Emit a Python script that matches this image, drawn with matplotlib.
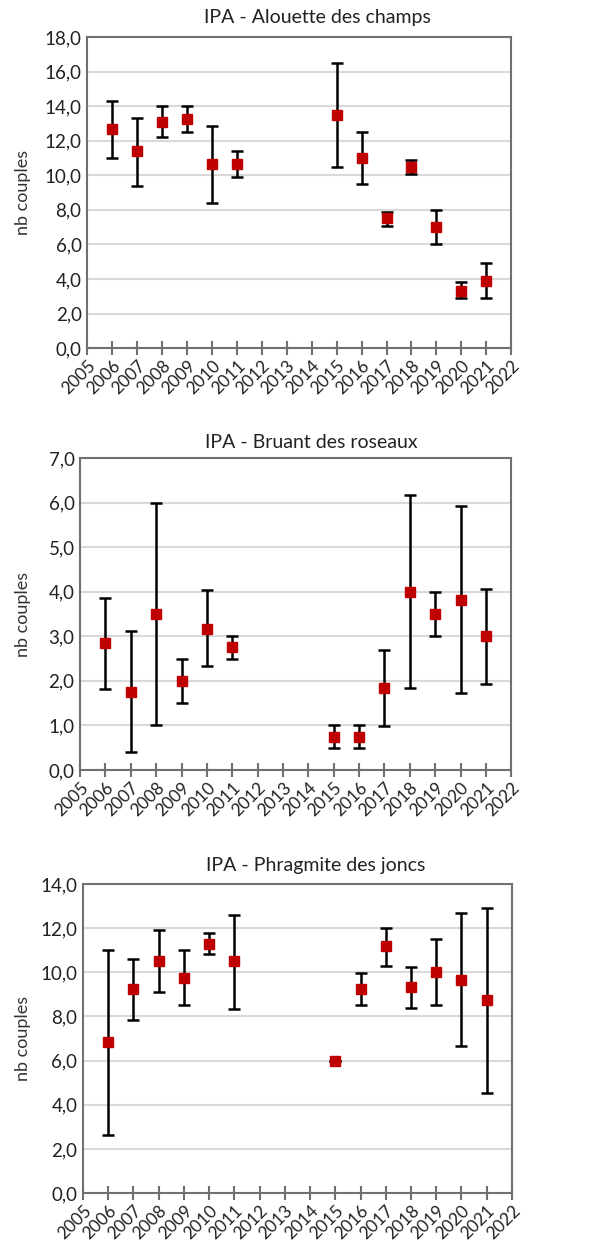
import numpy as np
import matplotlib
matplotlib.use("Agg")
import matplotlib.pyplot as plt
from matplotlib.ticker import FuncFormatter, MultipleLocator

plt.rcParams['font.family'] = ['Lato', 'DejaVu Sans']

years = [2006, 2007, 2008, 2009, 2010, 2011, 2015, 2016, 2017, 2018, 2019, 2020, 2021]

# Alouette des champs
alouette_mean = [12.7, 11.4, 13.1, 13.25, 10.65, 10.65, 13.5, 11.0, 7.5, 10.5, 7.0, 3.33, 3.87]
alouette_high = [14.3, 13.3, 14.0, 14.0, 12.85, 11.4, 16.5, 12.5, 7.9, 10.9, 8.0, 3.8, 4.9]
alouette_low = [11.0, 9.4, 12.2, 12.5, 8.4, 9.9, 10.5, 9.5, 7.05, 10.1, 6.0, 2.9, 2.9]

# Bruant des roseaux
bruant_mean = [2.85, 1.75, 3.5, 2.0, 3.17, 2.75, 0.75, 0.75, 1.83, 4.0, 3.5, 3.82, 3.0]
bruant_high = [3.86, 3.12, 6.0, 2.5, 4.03, 3.0, 1.0, 1.0, 2.69, 6.16, 4.0, 5.93, 4.06]
bruant_low = [1.81, 0.4, 1.0, 1.5, 2.33, 2.5, 0.5, 0.5, 0.98, 1.85, 3.0, 1.72, 1.92]

# Phragmite des joncs
phrag_mean = [6.83, 9.25, 10.5, 9.75, 11.3, 10.5, 6.0, 9.25, 11.2, 9.33, 10.0, 9.67, 8.75]
phrag_high = [11.0, 10.6, 11.9, 11.0, 11.8, 12.6, 6.0, 9.95, 12.0, 10.25, 11.5, 12.7, 12.9]
phrag_low = [2.64, 7.85, 9.1, 8.5, 10.83, 8.35, 6.0, 8.5, 10.3, 8.4, 8.5, 6.65, 4.55]

panels = [
    ("IPA - Alouette des champs", alouette_mean, alouette_high, alouette_low, 18, 2,
     [0.148, 0.722, 0.720, 0.2484], 317, 18),
    ("IPA - Bruant des roseaux", bruant_mean, bruant_high, bruant_low, 7, 1,
     [0.136, 0.385, 0.732, 0.2492], 311, 442),
    ("IPA - Phragmite des joncs", phrag_mean, phrag_high, phrag_low, 14, 2,
     [0.141, 0.0471, 0.728, 0.2468], 316, 865),
]

W, H = 589, 1252
fig = plt.figure(figsize=(W / 100, H / 100), dpi=100)
fmt = FuncFormatter(lambda v, p: f"{v:.1f}".replace('.', ','))

for title, mean, high, low, ymax, step, rect, tx, ty in panels:
    ax = fig.add_axes(rect)
    mean = np.array(mean)
    yerr = [mean - np.array(low), np.array(high) - mean]
    ax.errorbar(years, mean, yerr=yerr, fmt='s', color='#c00000', ms=7.5,
                ecolor='black', elinewidth=1.8, capsize=4, capthick=1.8, zorder=3)
    ax.set_xlim(2005, 2022)
    ax.set_ylim(0, ymax)
    ax.set_xticks(range(2005, 2023))
    ax.set_xticklabels([str(y) for y in range(2005, 2023)], rotation=45,
                       ha='right', rotation_mode='anchor', fontsize=12.5, color='#222222')
    ax.yaxis.set_major_locator(MultipleLocator(step))
    ax.yaxis.set_major_formatter(fmt)
    ax.tick_params(axis='y', length=0, labelsize=13.5, labelcolor='#222222', pad=4)
    ax.tick_params(axis='x', direction='inout', length=10, width=1.5, color='#707070', pad=2)
    ax.grid(axis='y', color='#d9d9d9', linewidth=1.5)
    ax.set_axisbelow(True)
    for s in ax.spines.values():
        s.set_color('#707070')
        s.set_linewidth(1.5)
    fig.text(tx / W, 1 - ty / H, title, ha='center', va='center', fontsize=14, color='#222222')
    ycen = rect[1] + rect[3] / 2
    fig.text(23 / W, ycen, "nb couples", rotation=90, ha='center', va='center',
             fontsize=13, color='#333333')

fig.savefig("out.png", dpi=100)
